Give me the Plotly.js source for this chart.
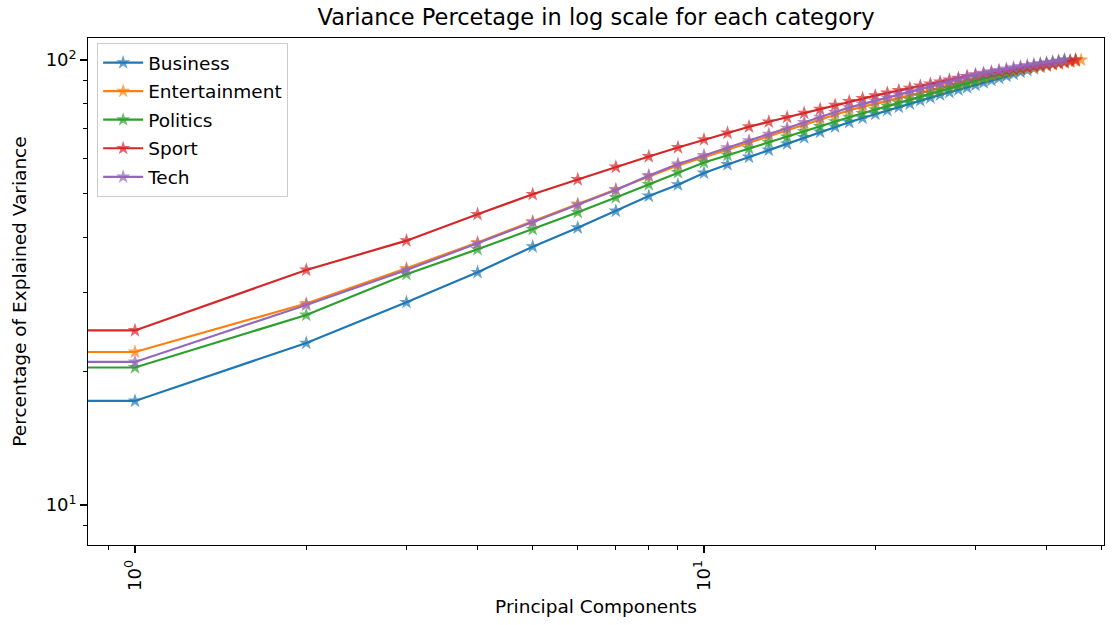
<!DOCTYPE html>
<html>
<head>
<meta charset="utf-8">
<script src="https://cdn.plot.ly/plotly-3.0.1.min.js"></script>
<style>
  html, body { margin: 0; padding: 0; background: #ffffff; }
  #chart { width: 1119px; height: 625px; }
</style>
</head>
<body>
<div id="chart"></div>
<script>
// Cumulative explained variance (%) per principal component, one array per category.
const categories = ['Business', 'Entertainment', 'Politics', 'Sport', 'Tech'];

const business = [17.13, 23.12, 28.54, 33.34, 38.06, 41.99, 45.78, 49.48, 52.45, 55.73,
  58.23, 60.54, 62.77, 64.82, 66.96, 68.90, 70.78, 72.48, 74.07, 75.58,
  77.05, 78.41, 79.76, 81.05, 82.28, 83.48, 84.61, 85.71, 86.74, 87.87,
  88.96, 90.03, 91.06, 92.05, 93.01, 93.93, 94.81, 95.65, 96.44, 97.19,
  97.90, 98.56, 99.18, 99.69, 100.0];

const entertainment = [22.07, 28.37, 34.03, 38.90, 43.36, 47.47, 51.17, 54.73, 57.93, 60.47,
  62.90, 65.22, 67.42, 69.51, 71.51, 73.46, 75.31, 77.12, 78.45, 79.72,
  80.93, 82.15, 83.26, 84.35, 85.45, 86.51, 87.50, 88.55, 89.52, 90.54,
  91.39, 92.20, 92.96, 93.69, 94.37, 95.01, 95.60, 96.15, 96.69, 97.19,
  97.65, 98.10, 98.56, 98.97, 99.48, 100.0];

const politics = [20.37, 26.73, 32.99, 37.55, 41.64, 45.47, 49.09, 52.51, 55.87, 58.84,
  61.10, 63.29, 65.29, 67.21, 69.08, 70.89, 72.67, 74.38, 75.90, 77.36,
  78.78, 80.14, 81.47, 82.79, 84.04, 85.27, 86.47, 87.64, 88.78, 89.89,
  90.97, 92.01, 92.96, 93.88, 94.76, 95.55, 96.29, 96.99, 97.65, 98.26,
  98.82, 99.33, 100.0];

const sport = [24.67, 33.74, 39.26, 45.00, 49.91, 53.88, 57.48, 60.69, 63.59, 66.24,
  68.54, 70.80, 72.63, 74.34, 75.98, 77.52, 79.15, 80.72, 81.98, 83.18,
  84.30, 85.40, 86.42, 87.41, 88.37, 89.29, 90.17, 91.06, 91.86, 92.53,
  93.11, 93.69, 94.22, 94.76, 95.25, 95.75, 96.24, 96.69, 97.14, 97.60,
  98.05, 98.46, 98.92, 99.43, 100.0];

const tech = [20.96, 28.15, 33.74, 38.73, 43.18, 47.22, 51.04, 55.01, 58.38, 61.01,
  63.52, 65.90, 68.15, 70.30, 72.37, 74.38, 76.29, 78.17, 79.56, 80.93,
  82.24, 83.57, 84.79, 85.98, 87.19, 88.37, 89.47, 90.64, 91.72, 92.63,
  93.40, 94.13, 94.81, 95.50, 96.15, 96.74, 97.30, 97.80, 98.26, 98.66,
  99.07, 99.48, 100.0];

const seriesValues = [business, entertainment, politics, sport, tech];
const colors = ['#1f77b4', '#ff7f0e', '#2ca02c', '#d62728', '#9467bd'];

const xTickVals = [1, 10];
const xTickText = ['10<sup>0</sup>', '10<sup>1</sup>'];
const xMinorVals = [0.9, 2, 3, 4, 5, 6, 7, 8, 9, 20, 30, 40, 50];
const yTickVals = [10, 100];
const yTickText = ['10<sup>1</sup>', '10<sup>2</sup>'];
const yMinorVals = [9, 20, 30, 40, 50, 60, 70, 80, 90];

// log10 ranges of both axes
const xRange = [-0.0826, 1.703];
const yRange = [0.9101, 2.0494];

// The component-0 point sits at the far left of a log axis, so each curve
// runs flat from the left edge into component 1.
const leftEdge = Math.pow(10, xRange[0] - 0.05);

const traces = seriesValues.map((vals, k) => {
  const comps = vals.map((_, i) => i + 1);
  return {
    type: 'scatter',
    mode: 'lines+markers',
    name: categories[k],
    legendgroup: categories[k],
    x: [leftEdge].concat(comps),
    y: [vals[0]].concat(vals),
    line: { color: colors[k], width: 2.2 },
    marker: {
      symbol: 'star',
      color: colors[k],
      size: [0].concat(comps.map(() => 11)),
      line: { width: 0 }
    },
    cliponaxis: true
  };
});

const font = { family: 'DejaVu Sans, sans-serif', color: '#000000' };

const layout = {
  width: 1119,
  height: 625,
  margin: { l: 88, r: 15, t: 38, b: 80, pad: 0 },
  paper_bgcolor: '#ffffff',
  plot_bgcolor: '#ffffff',
  font: Object.assign({ size: 18 }, font),
  title: {
    text: 'Variance Percetage in log scale for each category',
    font: Object.assign({ size: 22.5 }, font),
    x: 0.5, xref: 'paper',
    y: 1 - 17 / 625, yref: 'container', yanchor: 'middle'
  },
  showlegend: true,
  legend: {
    x: 0.009, y: 0.99, xanchor: 'left', yanchor: 'top',
    bgcolor: 'rgba(255,255,255,0.8)',
    bordercolor: '#cccccc', borderwidth: 1,
    font: Object.assign({ size: 18.5 }, font),
    traceorder: 'grouped',
    tracegroupgap: 1.5,
    itemwidth: 40
  },
  xaxis: {
    type: 'log',
    range: xRange,
    showgrid: false, zeroline: false,
    showline: true, linecolor: '#000000', linewidth: 1.3, mirror: true,
    ticks: 'outside', ticklen: 6.5, tickwidth: 1.3, tickcolor: '#000000',
    tickmode: 'array', tickvals: xTickVals, ticktext: xTickText,
    tickangle: -90,
    tickfont: Object.assign({ size: 18 }, font),
    minor: { tickmode: 'array', tickvals: xMinorVals, ticks: 'outside', ticklen: 3.7, tickwidth: 1, tickcolor: '#000000', showgrid: false },
    title: { text: 'Principal Components', font: Object.assign({ size: 18.5 }, font), standoff: 10 }
  },
  yaxis: {
    type: 'log',
    range: yRange,
    showgrid: false, zeroline: false,
    showline: true, linecolor: '#000000', linewidth: 1.3, mirror: true,
    ticks: 'outside', ticklen: 6.5, tickwidth: 1.3, tickcolor: '#000000',
    tickmode: 'array', tickvals: yTickVals, ticktext: yTickText,
    tickfont: Object.assign({ size: 18 }, font),
    minor: { tickmode: 'array', tickvals: yMinorVals, ticks: 'outside', ticklen: 3.7, tickwidth: 1, tickcolor: '#000000', showgrid: false },
    title: { text: 'Percentage of Explained Variance', font: Object.assign({ size: 18.5 }, font), standoff: 14 }
  }
};

Plotly.newPlot('chart', traces, layout, { displayModeBar: false, staticPlot: true });
</script>
</body>
</html>
